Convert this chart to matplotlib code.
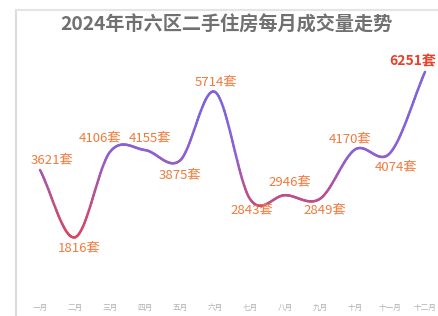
import matplotlib.pyplot as plt
import numpy as np
from matplotlib.collections import LineCollection
from matplotlib.colors import LinearSegmentedColormap
from matplotlib.lines import Line2D

plt.rcParams['font.family'] = ['Noto Sans CJK SC', 'DejaVu Sans']

title = "2024年市六区二手住房每月成交量走势"
months = ["一月", "二月", "三月", "四月", "五月", "六月",
          "七月", "八月", "九月", "十月", "十一月", "十二月"]
volumes = [3621, 1816, 4106, 4155, 3875, 5714, 2843, 2946, 2849, 4170, 4074, 6251]
unit = "套"

# label offsets in pixels (dx, dy), tuned to the reference
label_offsets = [(12, 10), (4, -11), (-10, 14), (5, 12), (0, -14), (1, 10),
                 (2, -11), (5, 13), (5, -11), (-5, 11), (6, -14), (-12, 10)]


def catmull_rom(x, y, steps=30):
    x = np.asarray(x, float)
    y = np.asarray(y, float)
    px = np.concatenate([[2 * x[0] - x[1]], x, [2 * x[-1] - x[-2]]])
    py = np.concatenate([[2 * y[0] - y[1]], y, [2 * y[-1] - y[-2]]])
    xs, ys = [], []
    for i in range(1, len(px) - 2):
        t = np.linspace(0, 1, steps, endpoint=False)
        for arr, out in ((px, xs), (py, ys)):
            p0, p1, p2, p3 = arr[i - 1], arr[i], arr[i + 1], arr[i + 2]
            out.append(0.5 * (2 * p1 + (-p0 + p2) * t
                              + (2 * p0 - 5 * p1 + 4 * p2 - p3) * t ** 2
                              + (-p0 + 3 * p1 - 3 * p2 + p3) * t ** 3))
    xs.append([x[-1]])
    ys.append([y[-1]])
    return np.concatenate(xs), np.concatenate(ys)


fig = plt.figure(figsize=(4.39, 3.16), dpi=100)
fig.patch.set_facecolor('white')

# faint frame at top/left like the screenshot
fig.add_artist(Line2D([16 / 439, 16 / 439], [0, 1 - 10 / 316], transform=fig.transFigure,
                      color='#dcdcdc', lw=1.5))
fig.add_artist(Line2D([16 / 439, 1], [1 - 10 / 316, 1 - 10 / 316], transform=fig.transFigure,
                      color='#e4e4e4', lw=1.5))

ax = fig.add_axes([20 / 439, 16 / 316, 419 / 439, 245 / 316])
x = np.arange(len(months))
ax.set_xlim(-20 / 35, (439 - 40) / 35)
ax.set_ylim(135, 6704)

sx, sy = catmull_rom(x, volumes)
pts = np.column_stack([sx, sy]).reshape(-1, 1, 2)
segs = np.concatenate([pts[:-1], pts[1:]], axis=1)
cmap = LinearSegmentedColormap.from_list('rp', ['#d9455f', '#b9508f', '#8e5fd2', '#7f63da'])
lc = LineCollection(segs, cmap=cmap, norm=plt.Normalize(1800, 5200), linewidth=1.8,
                    capstyle='round')
lc.set_array((sy[:-1] + sy[1:]) / 2)
ax.add_collection(lc)

for i, v in enumerate(volumes):
    dx, dy = label_offsets[i]
    last = i == len(volumes) - 1
    ax.annotate(f"{v}{unit}", (x[i], v), xytext=(dx, dy), textcoords='offset pixels',
                ha='center', va='center', fontsize=9.5 if not last else 10,
                fontweight='bold' if last else 'normal',
                color='#e8402a' if last else '#f07a3c')

ax.set_xticks(x)
ax.set_xticklabels(months, fontsize=5.5, color='#b0b0b0')
ax.tick_params(axis='x', length=0, pad=3)
ax.set_yticks([])
for s in ax.spines.values():
    s.set_visible(False)

fig.text(226 / 439, 1 - 25 / 316, title, ha='center', va='center',
         fontsize=13.8, fontweight='bold', color='#707070')

fig.savefig('out.png', dpi=100)
